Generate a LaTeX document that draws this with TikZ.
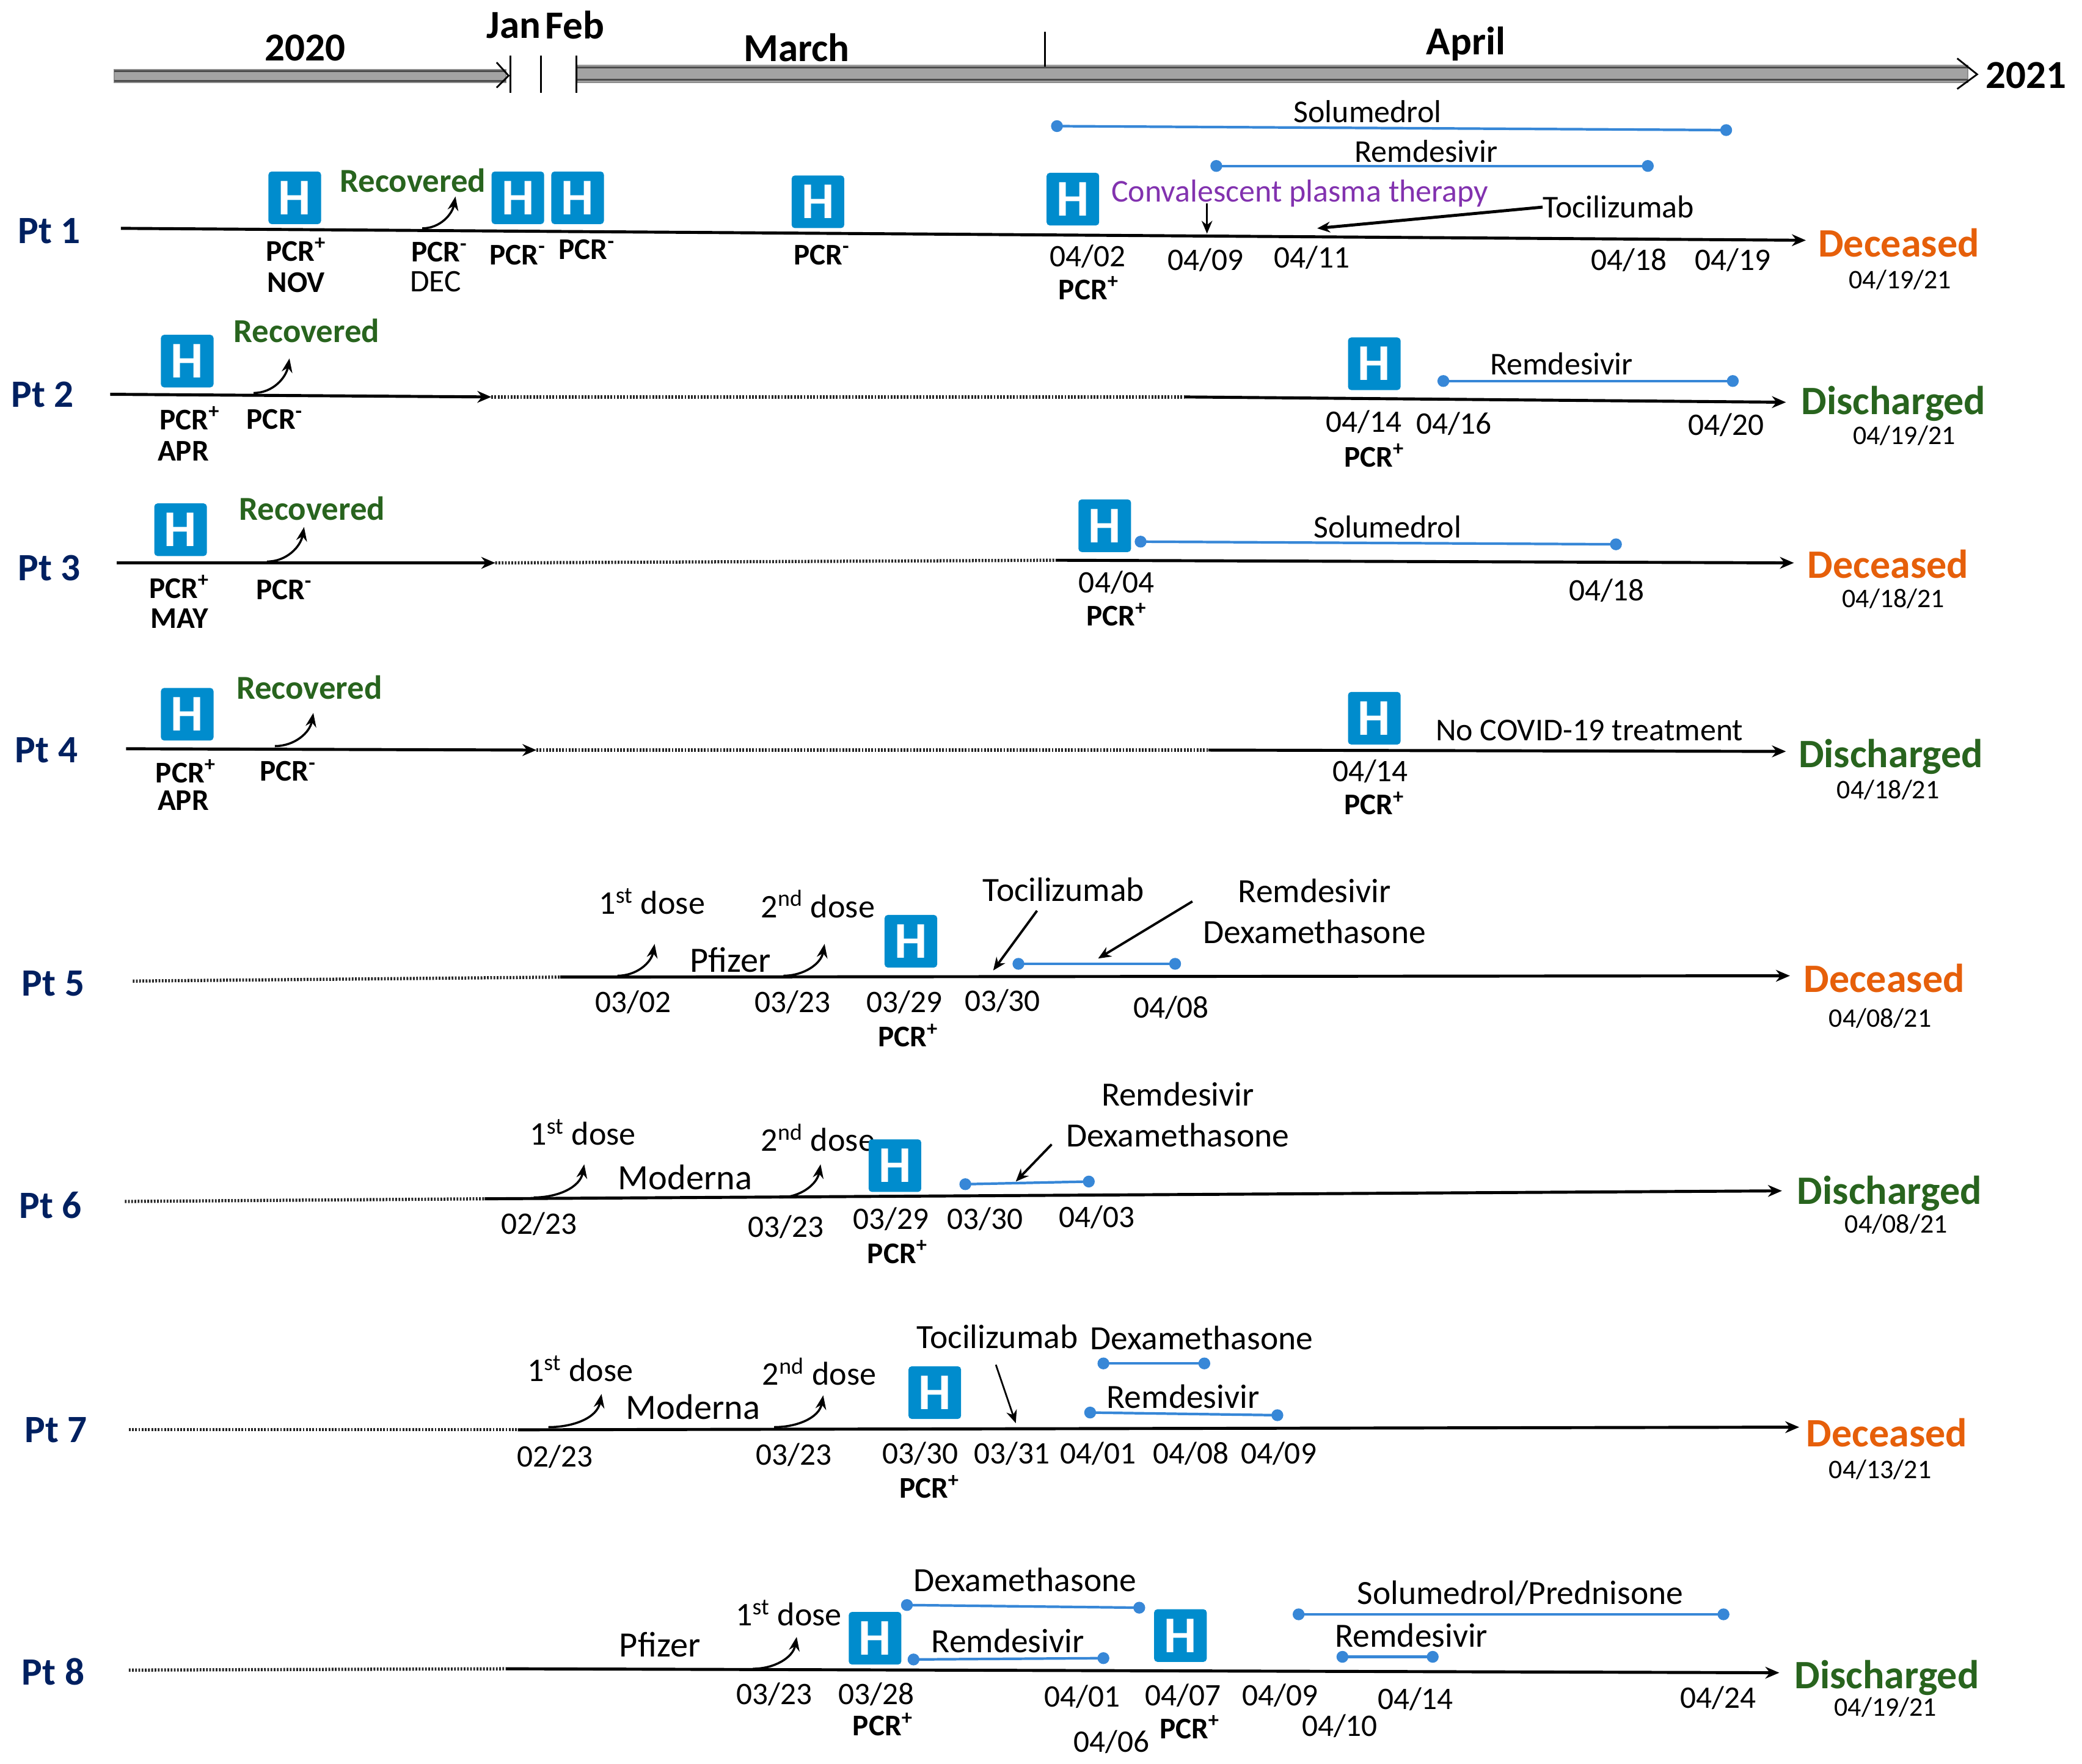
\documentclass[tikz,border=0pt]{standalone}
\usepackage{fontspec}
\setmainfont{Carlito}
\usetikzlibrary{arrows.meta}

\definecolor{ptblue}{RGB}{0,32,96}
\definecolor{hblue}{RGB}{0,140,205}
\definecolor{drugblue}{RGB}{55,135,215}
\definecolor{recgreen}{RGB}{40,100,30}
\definecolor{deadorange}{RGB}{230,95,10}
\definecolor{cpurple}{RGB}{130,50,175}

\newcommand{\pcrp}{PCR\textsuperscript{+}}
\newcommand{\pcrn}{PCR\textsuperscript{-}}

\tikzset{
  ptlabel/.style={text=ptblue, font=\fontsize{18}{20}\selectfont\bfseries},
  hbox/.style={fill=hblue, text=white, rounded corners=1.5pt, minimum size=24.5pt, inner sep=0pt, font=\fontsize{24}{24}\selectfont\bfseries},
  pcrlab/.style={inner sep=0pt, font=\fontsize{14}{15}\selectfont\bfseries},
  datelab/.style={inner sep=0pt, font=\fontsize{14.6}{15}\selectfont},
  druglab/.style={inner sep=0pt, font=\fontsize{14.8}{16}\selectfont},
  biglab/.style={inner sep=0pt, font=\fontsize{15.8}{17}\selectfont},
  vaclab/.style={inner sep=0pt, font=\fontsize{16.6}{18}\selectfont},
  doselab/.style={inner sep=0pt, font=\fontsize{15.4}{17}\selectfont},
  yearlab/.style={inner sep=0pt, font=\fontsize{18.5}{20}\selectfont\bfseries},
  reclab/.style={inner sep=0pt, text=recgreen, font=\fontsize{15.6}{17}\selectfont\bfseries},
  deadlab/.style={inner sep=0pt, text=deadorange, font=\fontsize{18.8}{20}\selectfont\bfseries},
  homelab/.style={inner sep=0pt, text=recgreen, font=\fontsize{18.8}{20}\selectfont\bfseries},
  endlab/.style={inner sep=0pt, font=\fontsize{12.5}{14}\selectfont},
  mainline/.style={-{Stealth[length=6.5pt,width=5.5pt]}, line width=1.4pt},
  dotline/.style={line width=1.5pt, black!85, dash pattern=on 0.8pt off 0.7pt},
  curvearrow/.style={-{Stealth[length=6.5pt,width=5pt]}, line width=1pt},
  pointer/.style={-{Stealth[length=6pt,width=5pt]}, line width=1.1pt},
  drugline/.style={{Circle[length=5.5pt]}-{Circle[length=5.5pt]}, shorten <=-2.75pt, shorten >=-2.75pt, drugblue, line width=1.2pt},
  bigbar/.style={fill=black!36, draw=black!45, line width=0.5pt},
  barband/.style={black!70, line width=0.9pt},
  chevron/.style={black, line width=0.8pt},
  tickmark/.style={black, line width=0.8pt}
}

\begin{document}
\begin{tikzpicture}[x=0.21735mm, y=-0.21735mm]
  \useasboundingbox (0,0) rectangle (1568,1328.7);

  % time axis
  \fill[bigbar] (86,52.5) rectangle (381,62);
  \draw[barband] (86,53.5) -- (381,53.5);
  \draw[barband] (86,61) -- (381,61);
  \draw[chevron] (374,47) -- (383,57) -- (374,66);
  \fill[bigbar] (435,49) rectangle (1482,62);
  \draw[barband] (435,51) -- (1482,51);
  \draw[barband] (435,60) -- (1482,60);
  \draw[chevron] (1474,44) -- (1489,56) -- (1474,67);
  \draw[tickmark] (384.5,42) -- (384.5,70);
  \draw[tickmark] (407.5,42) -- (407.5,70);
  \draw[tickmark] (434,42) -- (434,70);
  \draw[tickmark] (787,24) -- (787,50);
  \node[yearlab] (y2020) at (230,36) {2020};
  \node[yearlab] (jan) at (387,19) {Jan};
  \node[yearlab] (feb) at (433,19) {Feb};
  \node[yearlab] (march) at (600,36) {March};
  \node[yearlab] (april) at (1104,33) {April};
  \node[yearlab] (y2021) at (1526,57) {2021};

  % Pt 1
  \node[ptlabel] (pt1) at (37,174) {Pt 1};
  \coordinate (a1) at (91,172);
  \coordinate (b1) at (1360,181);
  \draw[mainline] (a1) -- (b1);
  \node[hbox] (h1a) at (222,149) {H};
  \node[hbox] (h1b) at (390,149) {H};
  \node[hbox] (h1c) at (435,149) {H};
  \node[hbox] (h1d) at (616,152) {H};
  \node[hbox] (h1e) at (808,150) {H};
  \node[reclab] (rec1) at (311,136) {Recovered};
  \coordinate (c1) at (318,172);
  \coordinate (c1e) at (343,148);
  \draw[curvearrow] (c1) to[out=0, in=-100] (c1e);
  \node[pcrlab] (p1a) at (223,188) {\pcrp};
  \node[pcrlab] (p1b) at (223,213) {NOV};
  \node[pcrlab] (p1c) at (331,190) {\pcrn};
  \node[datelab] (p1d) at (328,212) {DEC};
  \node[pcrlab] (p1e) at (390,192) {\pcrn};
  \node[pcrlab] (p1f) at (442,188) {\pcrn};
  \node[pcrlab] (p1g) at (619,192) {\pcrn};
  \node[datelab] (d1a) at (819,193) {04/02};
  \node[pcrlab] (p1h) at (820,217) {\pcrp};
  \node[datelab] (d1b) at (908,196) {04/09};
  \node[datelab] (d1c) at (988,194) {04/11};
  \node[datelab] (d1d) at (1227,196) {04/18};
  \node[datelab] (d1e) at (1305,196) {04/19};
  \node[deadlab] (out1) at (1430,183) {Deceased};
  \node[endlab] (end1) at (1431,211) {04/19/21};
  \node[druglab] (sol1) at (1030,84) {Solumedrol};
  \coordinate (s1a) at (796,95);
  \coordinate (s1b) at (1300,98);
  \draw[drugline] (s1a) -- (s1b);
  \node[druglab] (rem1) at (1074,114) {Remdesivir};
  \coordinate (r1a) at (916,125);
  \coordinate (r1b) at (1241,125);
  \draw[drugline] (r1a) -- (r1b);
  \node[druglab, text=cpurple] (cp1) at (979,145.5) {Convalescent plasma therapy};
  \coordinate (cp1a) at (909,153);
  \coordinate (cp1b) at (909,176);
  \draw[pointer, line width=0.8pt] (cp1a) -- (cp1b);
  \node[druglab] (toc1) at (1219,156) {Tocilizumab};
  \coordinate (t1b) at (992,172);
  \draw[pointer, line width=1.4pt] (toc1.west) -- (t1b);

  % Pt 2
  \node[ptlabel] (pt2) at (32,297) {Pt 2};
  \coordinate (a2) at (83,297);
  \coordinate (m2) at (370,299);
  \coordinate (n2) at (892,299);
  \coordinate (b2) at (1345,303);
  \draw[mainline] (a2) -- (m2);
  \draw[dotline] (m2) -- (n2);
  \draw[mainline] (n2) -- (b2);
  \node[hbox] (h2a) at (141,272) {H};
  \node[hbox] (h2b) at (1035,274) {H};
  \node[reclab] (rec2) at (231,249) {Recovered};
  \coordinate (c2) at (191,296);
  \coordinate (c2e) at (218,270);
  \draw[curvearrow] (c2) to[out=0, in=-100] (c2e);
  \node[pcrlab] (p2a) at (143,315) {\pcrp};
  \node[pcrlab] (p2b) at (138,340) {APR};
  \node[pcrlab] (p2c) at (207,316) {\pcrn};
  \node[druglab] (rem2) at (1176,274) {Remdesivir};
  \coordinate (r2a) at (1087,287);
  \coordinate (r2b) at (1305,287);
  \draw[drugline] (r2a) -- (r2b);
  \node[datelab] (d2a) at (1027,318) {04/14};
  \node[pcrlab] (p2d) at (1035,343) {\pcrp};
  \node[datelab] (d2b) at (1095,319) {04/16};
  \node[datelab] (d2c) at (1300,320) {04/20};
  \node[homelab] (out2) at (1426,304) {Discharged};
  \node[endlab] (end2) at (1434,328) {04/19/21};

  % Pt 3
  \node[ptlabel] (pt3) at (37,428) {Pt 3};
  \coordinate (a3) at (88,424);
  \coordinate (m3) at (373,424);
  \coordinate (n3) at (795,422);
  \coordinate (b3) at (1351,424);
  \draw[mainline] (a3) -- (m3);
  \draw[dotline] (m3) -- (n3);
  \draw[mainline] (n3) -- (b3);
  \node[hbox] (h3a) at (136,399) {H};
  \node[hbox] (h3b) at (832,396) {H};
  \node[reclab] (rec3) at (235,383) {Recovered};
  \coordinate (c3) at (201,423);
  \coordinate (c3e) at (229,397);
  \draw[curvearrow] (c3) to[out=0, in=-100] (c3e);
  \node[pcrlab] (p3a) at (135,442) {\pcrp};
  \node[pcrlab] (p3b) at (135,466) {MAY};
  \node[pcrlab] (p3c) at (214,444) {\pcrn};
  \node[druglab] (sol3) at (1045,397) {Solumedrol};
  \coordinate (s3a) at (859,408);
  \coordinate (s3b) at (1217,410);
  \draw[drugline] (s3a) -- (s3b);
  \node[datelab] (d3a) at (841,439) {04/04};
  \node[pcrlab] (p3d) at (841,463) {\pcrp};
  \node[datelab] (d3b) at (1210,445) {04/18};
  \node[deadlab] (out3) at (1422,425) {Deceased};
  \node[endlab] (end3) at (1426,451) {04/18/21};

  % Pt 4
  \node[ptlabel] (pt4) at (35,565) {Pt 4};
  \coordinate (a4) at (95,564);
  \coordinate (m4) at (404,565);
  \coordinate (n4) at (910,565);
  \coordinate (b4) at (1345,566);
  \draw[mainline] (a4) -- (m4);
  \draw[dotline] (m4) -- (n4);
  \draw[mainline] (n4) -- (b4);
  \node[hbox] (h4a) at (141,538) {H};
  \node[hbox] (h4b) at (1035,541) {H};
  \node[reclab] (rec4) at (233,518) {Recovered};
  \coordinate (c4) at (207,562);
  \coordinate (c4e) at (236,537);
  \draw[curvearrow] (c4) to[out=0, in=-100] (c4e);
  \node[pcrlab] (p4a) at (140,581) {\pcrp};
  \node[pcrlab] (p4b) at (138,603) {APR};
  \node[pcrlab] (p4c) at (217,581) {\pcrn};
  \node[datelab] (d4a) at (1032,581) {04/14};
  \node[pcrlab] (p4d) at (1035,605) {\pcrp};
  \node[druglab] (none4) at (1197,550) {No COVID-19 treatment};
  \node[homelab] (out4) at (1424,570) {Discharged};
  \node[endlab] (end4) at (1422,595) {04/18/21};

  % Pt 5
  \node[ptlabel] (pt5) at (40,741) {Pt 5};
  \coordinate (a5) at (100,739);
  \coordinate (m5) at (422,736);
  \coordinate (b5) at (1348,735);
  \draw[dotline] (a5) -- (m5);
  \draw[mainline] (m5) -- (b5);
  \node[doselab] (v5a) at (491,679) {1\textsuperscript{st} dose};
  \node[doselab] (v5b) at (616,681) {2\textsuperscript{nd} dose};
  \node[vaclab] (vac5) at (550,723) {Pfizer};
  \coordinate (c5a) at (465,735);
  \coordinate (c5b) at (493,711);
  \coordinate (c5c) at (590,735);
  \coordinate (c5d) at (621,711);
  \draw[curvearrow] (c5a) to[out=0, in=-100] (c5b);
  \draw[curvearrow] (c5c) to[out=0, in=-100] (c5d);
  \node[hbox] (h5a) at (686,709) {H};
  \node[biglab] (toc5) at (801,670) {Tocilizumab};
  \coordinate (t5a) at (781,686);
  \coordinate (t5b) at (748,731);
  \draw[pointer] (t5a) -- (t5b);
  \node[biglab] (rem5) at (990,671) {Remdesivir};
  \node[biglab] (dex5) at (990,702) {Dexamethasone};
  \coordinate (t5c) at (898,679);
  \coordinate (t5d) at (827,722);
  \draw[pointer] (t5c) -- (t5d);
  \coordinate (r5a) at (767,726);
  \coordinate (r5b) at (885,726);
  \draw[drugline] (r5a) -- (r5b);
  \node[datelab] (d5a) at (477,755) {03/02};
  \node[datelab] (d5b) at (597,755) {03/23};
  \node[datelab] (d5c) at (681,755) {03/29};
  \node[pcrlab] (p5a) at (684,780) {\pcrp};
  \node[datelab] (d5d) at (755,754) {03/30};
  \node[datelab] (d5e) at (882,759) {04/08};
  \node[deadlab] (out5) at (1419,737) {Deceased};
  \node[endlab] (end5) at (1416,767) {04/08/21};

  % Pt 6
  \node[ptlabel] (pt6) at (38,908) {Pt 6};
  \coordinate (a6) at (94,905);
  \coordinate (m6) at (365,903);
  \coordinate (b6) at (1342,897);
  \draw[dotline] (a6) -- (m6);
  \draw[mainline] (m6) -- (b6);
  \node[doselab] (v6a) at (439,853) {1\textsuperscript{st} dose};
  \node[doselab] (v6b) at (616,857) {2\textsuperscript{nd} dose};
  \node[vaclab] (vac6) at (516,887) {Moderna};
  \coordinate (c6a) at (402,902);
  \coordinate (c6b) at (440,877);
  \coordinate (c6c) at (587,902);
  \coordinate (c6d) at (618,877);
  \draw[curvearrow] (c6a) to[out=0, in=-100] (c6b);
  \draw[curvearrow] (c6c) to[out=0, in=-100] (c6d);
  \node[hbox] (h6a) at (674,878) {H};
  \node[biglab] (rem6) at (887,824) {Remdesivir};
  \node[biglab] (dex6) at (887,855) {Dexamethasone};
  \coordinate (t6a) at (792,862);
  \coordinate (t6b) at (765,890);
  \draw[pointer] (t6a) -- (t6b);
  \coordinate (r6a) at (727,892);
  \coordinate (r6b) at (820,890);
  \draw[drugline] (r6a) -- (r6b);
  \node[datelab] (d6a) at (406,922) {02/23};
  \node[datelab] (d6b) at (592,924) {03/23};
  \node[datelab] (d6c) at (671,918) {03/29};
  \node[pcrlab] (p6a) at (676,943) {\pcrp};
  \node[datelab] (d6d) at (742,918) {03/30};
  \node[datelab] (d6e) at (826,917) {04/03};
  \node[homelab] (out6) at (1423,899) {Discharged};
  \node[endlab] (end6) at (1428,922) {04/08/21};

  % Pt 7
  \node[ptlabel] (pt7) at (42,1077) {Pt 7};
  \coordinate (a7) at (97,1077);
  \coordinate (m7) at (390,1077);
  \coordinate (b7) at (1355,1075);
  \draw[dotline] (a7) -- (m7);
  \draw[mainline] (m7) -- (b7);
  \node[doselab] (v7a) at (437,1031) {1\textsuperscript{st} dose};
  \node[doselab] (v7b) at (617,1033) {2\textsuperscript{nd} dose};
  \node[vaclab] (vac7) at (522,1060) {Moderna};
  \coordinate (c7a) at (413,1075);
  \coordinate (c7b) at (453,1050);
  \coordinate (c7c) at (583,1075);
  \coordinate (c7d) at (620,1051);
  \draw[curvearrow] (c7a) to[out=0, in=-100] (c7b);
  \draw[curvearrow] (c7c) to[out=0, in=-100] (c7d);
  \node[hbox] (h7a) at (704,1049) {H};
  \node[biglab] (toc7) at (751,1007) {Tocilizumab};
  \coordinate (t7a) at (750,1028);
  \coordinate (t7b) at (765,1072);
  \draw[pointer, line width=0.8pt] (t7a) -- (t7b);
  \node[biglab] (dex7) at (905,1008) {Dexamethasone};
  \coordinate (x7a) at (831,1027);
  \coordinate (x7b) at (907,1027);
  \draw[drugline] (x7a) -- (x7b);
  \node[biglab] (rem7) at (891,1052) {Remdesivir};
  \coordinate (r7a) at (821,1064);
  \coordinate (r7b) at (962,1066);
  \draw[drugline] (r7a) -- (r7b);
  \node[datelab] (d7a) at (418,1097) {02/23};
  \node[datelab] (d7b) at (598,1096) {03/23};
  \node[datelab] (d7c) at (693,1095) {03/30};
  \node[pcrlab] (p7a) at (700,1120) {\pcrp};
  \node[datelab] (d7d) at (762,1095) {03/31};
  \node[datelab] (d7e) at (827,1095) {04/01};
  \node[datelab] (d7f) at (897,1095) {04/08};
  \node[datelab] (d7g) at (963,1095) {04/09};
  \node[deadlab] (out7) at (1421,1079) {Deceased};
  \node[endlab] (end7) at (1416,1107) {04/13/21};

  % Pt 8
  \node[ptlabel] (pt8) at (40,1259) {Pt 8};
  \coordinate (a8) at (97,1258);
  \coordinate (m8) at (381,1257);
  \coordinate (b8) at (1340,1260);
  \draw[dotline] (a8) -- (m8);
  \draw[mainline] (m8) -- (b8);
  \node[vaclab] (vac8) at (497,1239) {Pfizer};
  \node[doselab] (v8a) at (594,1215) {1\textsuperscript{st} dose};
  \coordinate (c8a) at (567,1257);
  \coordinate (c8b) at (600,1233);
  \draw[curvearrow] (c8a) to[out=0, in=-100] (c8b);
  \node[hbox] (h8a) at (659,1234) {H};
  \node[hbox] (h8b) at (889,1232) {H};
  \node[biglab] (dex8) at (772,1190) {Dexamethasone};
  \coordinate (x8a) at (683,1209);
  \coordinate (x8b) at (858,1211);
  \draw[drugline] (x8a) -- (x8b);
  \node[biglab] (rem8a) at (759,1236) {Remdesivir};
  \coordinate (r8a) at (688,1250);
  \coordinate (r8b) at (831,1249);
  \draw[drugline] (r8a) -- (r8b);
  \node[biglab] (sol8) at (1145,1200) {Solumedrol/Prednisone};
  \coordinate (s8a) at (978,1216);
  \coordinate (s8b) at (1298,1216);
  \draw[drugline] (s8a) -- (s8b);
  \node[biglab] (rem8b) at (1063,1232) {Remdesivir};
  \coordinate (r8c) at (1011,1248);
  \coordinate (r8d) at (1079,1248);
  \draw[drugline] (r8c) -- (r8d);
  \node[datelab] (d8a) at (583,1276) {03/23};
  \node[datelab] (d8b) at (660,1276) {03/28};
  \node[pcrlab] (p8a) at (665,1299) {\pcrp};
  \node[datelab] (d8c) at (815,1278) {04/01};
  \node[datelab] (d8d) at (837,1312) {04/06};
  \node[datelab] (d8e) at (891,1277) {04/07};
  \node[pcrlab] (p8b) at (896,1301) {\pcrp};
  \node[datelab] (d8f) at (964,1277) {04/09};
  \node[datelab] (d8g) at (1009,1300) {04/10};
  \node[datelab] (d8h) at (1066,1280) {04/14};
  \node[datelab] (d8i) at (1294,1279) {04/24};
  \node[homelab] (out8) at (1421,1264) {Discharged};
  \node[endlab] (end8) at (1420,1286) {04/19/21};
\end{tikzpicture}
\end{document}
